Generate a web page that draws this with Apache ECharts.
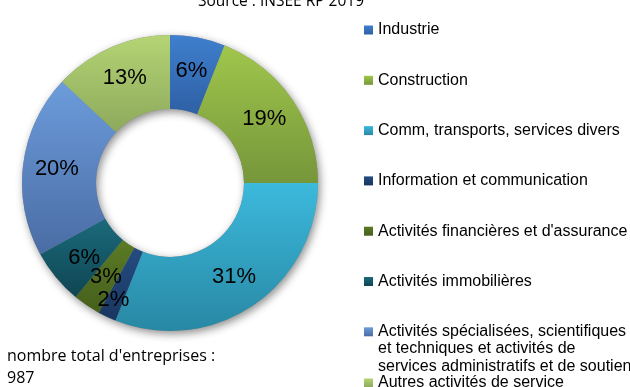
<!DOCTYPE html>
<html>
<head>
<meta charset="utf-8">
<style>
  html, body { margin: 0; padding: 0; background: #fff; }
  #chart { width: 630px; height: 387px; }
</style>
<script src="https://cdn.jsdelivr.net/npm/echarts@6/dist/echarts.min.js"></script>
</head>
<body>
<div id="chart"></div>
<script>
// Répartition des entreprises par secteur d'activité (en %)
const sectors = [
  'Industrie',
  'Construction',
  'Comm, transports, services divers',
  'Information et communication',
  "Activités financières et d'assurance",
  'Activités immobilières',
  'Activités spécialisées, scientifiques et techniques et activités de services administratifs et de soutien',
  'Autres activités de service'
];
const shares = [6, 19, 31, 2, 3, 6, 20, 13];
const totalCompanies = 987;
const sourceText = 'Source : INSEE RP 2019';

// light (top) / dark (bottom) tones for each sector
const topColors = ['#3F7FCE', '#A0C64C', '#3CB9DC', '#244C82', '#5B7B25', '#1B6A7C', '#6C9CDB', '#B4D474'];
const bottomColors = ['#2E60A4', '#76963A', '#2888A4', '#1A3660', '#465F1C', '#0F4552', '#4A6CA4', '#8DA95C'];

function grad(i) {
  return new echarts.graphic.LinearGradient(0, 0, 0, 1, [
    { offset: 0, color: topColors[i] },
    { offset: 1, color: bottomColors[i] }
  ]);
}

// small slices get their labels nudged so they stay readable
const labelNudges = { 3: [-8, 14], 5: [2, 2] };

const pieData = sectors.map((name, i) => {
  const item = { name, value: shares[i], itemStyle: { color: grad(i) } };
  if (labelNudges[i]) item.label = { offset: labelNudges[i] };
  return item;
});

const longName = sectors[6];
const legendText = {
  fontFamily: 'Liberation Sans, Arial, sans-serif',
  fontSize: 16,
  lineHeight: 18,
  color: '#000'
};

const chart = echarts.init(document.getElementById('chart'), null, { renderer: 'canvas' });
chart.setOption({
  animation: false,
  backgroundColor: '#fff',
  legend: [
    {
      orient: 'vertical',
      left: 364,
      top: 21,
      padding: 0,
      itemWidth: 9,
      itemHeight: 9,
      itemGap: 32.3,
      icon: 'rect',
      selectedMode: false,
      data: sectors.slice(0, 7),
      formatter: n => (n === longName ? 'Activités spécialisées, scientifiques' : n),
      textStyle: legendText
    },
    {
      orient: 'vertical',
      left: 364,
      top: 374,
      padding: 0,
      itemWidth: 9,
      itemHeight: 9,
      icon: 'rect',
      selectedMode: false,
      data: sectors.slice(7),
      textStyle: legendText
    }
  ],
  graphic: [
    {
      type: 'text',
      style: { text: sourceText, x: 281, y: 2, align: 'center', verticalAlign: 'middle',
        font: '15.5px "Open Sans", sans-serif', fill: '#000' }
    },
    {
      type: 'text',
      style: { text: 'et techniques et activités de', x: 378, y: 348.5, verticalAlign: 'middle',
        font: '16px "Liberation Sans", Arial, sans-serif', fill: '#000' }
    },
    {
      type: 'text',
      style: { text: 'services administratifs et de soutien', x: 378, y: 367, verticalAlign: 'middle',
        font: '16px "Liberation Sans", Arial, sans-serif', fill: '#000' }
    },
    {
      type: 'text',
      style: { text: "nombre total d'entreprises :\n" + totalCompanies, x: 7, y: 345,
        lineHeight: 22, verticalAlign: 'top',
        font: '16px "Open Sans", sans-serif', fill: '#000' }
    }
  ],
  series: [
    {
      // ring carrying the drop shadow behind the slices
      type: 'pie',
      silent: true,
      center: [170, 183],
      radius: [74, 148],
      label: { show: false },
      labelLine: { show: false },
      itemStyle: {
        color: '#888',
        shadowBlur: 8,
        shadowColor: 'rgba(0,0,0,0.45)',
        shadowOffsetX: 2,
        shadowOffsetY: 3
      },
      data: [{ value: 1, name: '' }],
      z: 1
    },
    {
      type: 'pie',
      center: [170, 183],
      radius: [74, 148],
      startAngle: 90,
      clockwise: true,
      silent: true,
      avoidLabelOverlap: false,
      labelLayout: { hideOverlap: false },
      z: 2,
      label: {
        show: true,
        position: 'inside',
        formatter: '{c}%',
        fontFamily: 'Liberation Sans, Arial, sans-serif',
        fontSize: 22,
        color: '#000'
      },
      labelLine: { show: false },
      data: pieData
    }
  ]
});
</script>
</body>
</html>
